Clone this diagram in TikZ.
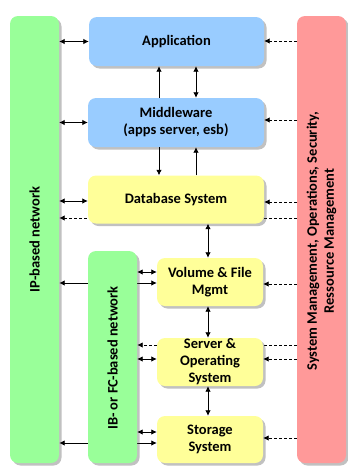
\documentclass[tikz,border=0pt]{standalone}
\usepackage{fontspec}
\setmainfont{Carlito}
\usetikzlibrary{arrows.meta,shadows,calc}
\pgfdeclarelayer{bg}
\pgfsetlayers{bg,main}
\definecolor{cblue}{HTML}{99CCFF}
\definecolor{cyellow}{HTML}{FFFF99}
\definecolor{cgreen}{HTML}{99FF99}
\definecolor{cred}{HTML}{FF9999}
\tikzset{
  lbl/.style={font=\bfseries\fontsize{14.5}{17}\selectfont},
  box/.style={rectangle, rounded corners=8pt, draw=none, align=center,
    lbl, inner sep=0pt,
    drop shadow={shadow xshift=2.5pt, shadow yshift=-2.5pt, opacity=0.35, fill=black!70}},
  bluebox/.style={box, fill=cblue},
  yellowbox/.style={box, fill=cyellow},
  greenbar/.style={box, fill=cgreen},
  redbar/.style={box, fill=cred},
  conn/.style={line width=0.8pt, >={Latex[length=5.5pt,width=5.5pt]}},
  dconn/.style={conn, dash pattern=on 3pt off 2pt},
}
\begin{document}
\begin{tikzpicture}[x=1pt,y=-1pt]
\useasboundingbox (0,0) rectangle (348,466);
% nodes (positioned by centre)
\node[greenbar, minimum width=49pt, minimum height=447pt] (ip) at (34.5,239.5) {};
\node[redbar, minimum width=49pt, minimum height=447pt] (sm) at (321.5,239.5) {};
\node[greenbar, minimum width=49pt, minimum height=212pt] (ib) at (112.5,357) {};
\node[bluebox, minimum width=175pt, minimum height=49pt] (app) at (176.5,41.5) {Application};
\node[bluebox, minimum width=176pt, minimum height=49pt] (mw) at (176,122.5) {Middleware\\(apps server, esb)};
\node[yellowbox, minimum width=176pt, minimum height=48pt] (db) at (176,199.5) {Database System};
\node[yellowbox, minimum width=106pt, minimum height=48pt] (vol) at (210,282) {Volume \& File\\Mgmt};
\node[yellowbox, minimum width=106pt, minimum height=48pt] (srv) at (210,362) {Server \&\\Operating\\System};
\node[yellowbox, minimum width=106pt, minimum height=47pt] (sto) at (210,439.5) {Storage\\System};
% bar labels
\node[rotate=90, lbl] (iplbl) at (ip.center) {IP-based network};
\node[rotate=90, lbl] (iblbl) at (112.5,358) {IB- or FC-based network};
\node[rotate=90, align=center, lbl] (smlbl) at (321.5,241) {System Management, Operations, Security,\\Ressource Management};
% lines passing behind boxes
\begin{pgfonlayer}{bg}
\draw[dconn,->] (sm.west |- 0,218) -- (ip.east |- 0,218);
\draw[dconn,->] (sm.west |- 0,345) -- (ib.east |- 0,345);
\draw[conn,<->] (ip.east |- 0,283) -- (vol.west |- 0,283);
\draw[conn,<->] (ip.east |- 0,443) -- (sto.west |- 0,443);
\end{pgfonlayer}
% left connections
\draw[conn,<->] (ip.east |- app.west) -- (app.west);
\draw[conn,<->] (ip.east |- mw.west) -- (mw.west);
\draw[conn,<->] (ip.east |- 0,201) -- (db.west |- 0,201);
\draw[conn,<->] (ib.east |- 0,272) -- (vol.west |- 0,272);
\draw[conn,<->] (ib.east |- 0,359) -- (srv.west |- 0,359);
\draw[conn,<->] (ib.east |- 0,432) -- (sto.west |- 0,432);
% right connections
\draw[dconn,->] (sm.west |- 0,41) -- (app.east |- 0,41);
\draw[dconn,->] (sm.west |- 0,120) -- (mw.east |- 0,120);
\draw[dconn,->] (sm.west |- 0,202) -- (db.east |- 0,202);
\draw[dconn,->] (sm.west |- 0,284) -- (vol.east |- 0,284);
\draw[dconn,->] (sm.west |- 0,359) -- (srv.east |- 0,359);
\draw[dconn,->] (sm.west |- 0,438) -- (sto.east |- 0,438);
% vertical connections
\draw[conn,->] (mw.north -| 159,0) -- (app.south -| 159,0);
\draw[conn,<->] (mw.north -| 196,0) -- (app.south -| 196,0);
\draw[conn,->] (mw.south -| 159,0) -- (db.north -| 159,0);
\draw[conn,->] (db.north -| 196,0) -- (mw.south -| 196,0);
\draw[conn,<->] (db.south -| 208,0) -- (vol.north -| 208,0);
\draw[conn,<->] (vol.south -| 208,0) -- (srv.north -| 208,0);
\draw[conn,<->] (srv.south -| 208,0) -- (sto.north -| 208,0);
\end{tikzpicture}
\end{document}
